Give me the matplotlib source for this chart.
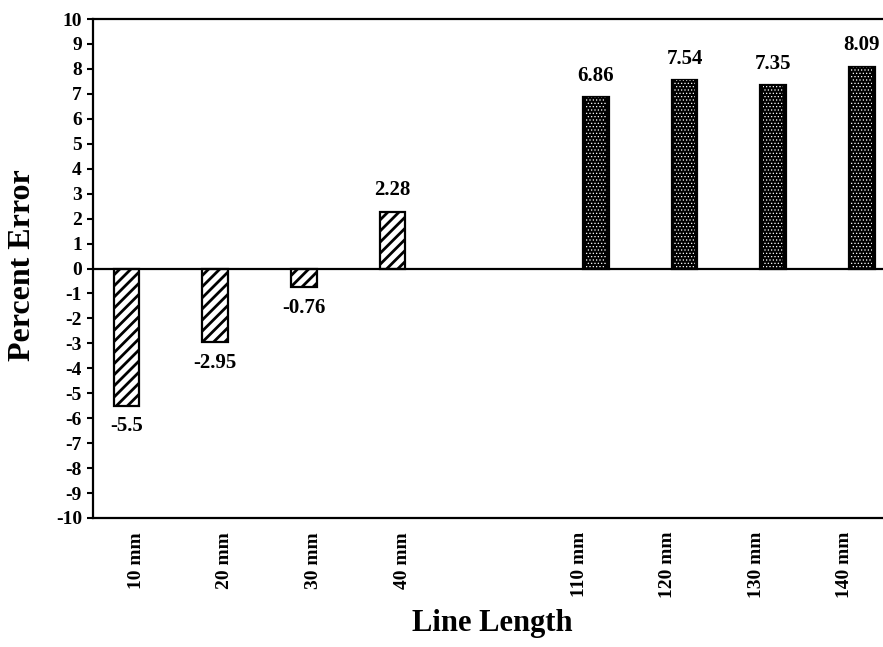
import matplotlib
matplotlib.use("Agg")
import matplotlib.pyplot as plt

# Data
short_labels = ["10 mm", "20 mm", "30 mm", "40 mm"]
short_values = [-5.5, -2.95, -0.76, 2.28]
long_labels = ["110 mm", "120 mm", "130 mm", "140 mm"]
long_values = [6.86, 7.54, 7.35, 8.09]
value_texts_short = ["-5.5", "-2.95", "-0.76", "2.28"]
value_texts_long = ["6.86", "7.54", "7.35", "8.09"]
y_ticks = list(range(-10, 11))

# Layout
short_pos = [0, 1, 2, 3]
long_pos = [5, 6, 7, 8]
short_off = -0.11
long_off = 0.19
bar_w = 0.29

plt.rcParams['font.family'] = ['Liberation Serif', 'DejaVu Serif']
plt.rcParams['font.weight'] = 'bold'

W, H = 883, 647
fig = plt.figure(figsize=(W / 100, H / 100), dpi=100)
ax = fig.add_axes([93 / W, 1 - 518 / H, 1 - 93 / W, (518 - 19) / H])

sx = [p + short_off for p in short_pos]
lx = [p + long_off for p in long_pos]

with plt.rc_context({'hatch.linewidth': 2.0}):
    ax.bar(sx, short_values, width=bar_w, facecolor='white', edgecolor='black',
           hatch='///', linewidth=1.6, zorder=3)
ax.bar(lx, long_values, width=bar_w, facecolor='black', edgecolor='black',
       linewidth=1.6, zorder=3)
with plt.rc_context({'hatch.linewidth': 0.5}):
    ax.bar(lx, long_values, width=bar_w * 0.8, facecolor='none', edgecolor='white',
           hatch='.....', linewidth=0, zorder=4)

ax.axhline(0, color='black', linewidth=1.6, zorder=5)

for x, v, t in zip(sx + lx, short_values + long_values,
                   value_texts_short + value_texts_long):
    if v >= 0:
        ax.annotate(t, (x, v), xytext=(0, 8.3), textcoords='offset points',
                    ha='center', va='bottom', fontsize=15, fontweight='bold')
    else:
        ax.annotate(t, (x, v), xytext=(0, -7.5), textcoords='offset points',
                    ha='center', va='top', fontsize=15, fontweight='bold')

ax.set_xlim(-0.49, 8.43)
ax.set_ylim(-10, 10)
ax.set_yticks(y_ticks)
ax.set_yticklabels([str(t) for t in y_ticks], fontsize=14, fontweight='bold')
ax.tick_params(axis='y', direction='out', length=4.5, width=1.5, pad=3.5)

ax.set_xticks(short_pos + long_pos)
ax.set_xticklabels(short_labels + long_labels, rotation=90, fontsize=14,
                   fontweight='bold', va='top', ha='center')
ax.tick_params(axis='x', length=0, pad=10)

for s in ['left', 'top', 'bottom']:
    ax.spines[s].set_linewidth(1.6)
ax.spines['right'].set_visible(False)

fig.text(23 / W, 1 - 265 / H, "Percent Error", rotation=90, ha='center',
         va='center', fontsize=23, fontweight='bold')
fig.text(492 / W, 1 - 624 / H, "Line Length", ha='center', va='center',
         fontsize=22, fontweight='bold')

fig.savefig("out.png", dpi=100)
